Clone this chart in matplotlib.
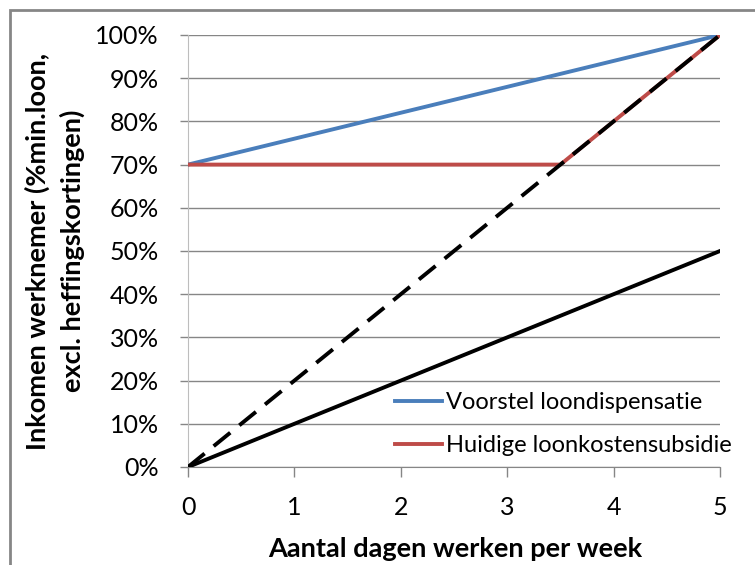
import matplotlib.pyplot as plt
from matplotlib.patches import Rectangle
from matplotlib.ticker import PercentFormatter

days = [0, 5]
voorstel = [70, 100]
huidige_days = [0, 3.5, 5]
huidige = [70, 70, 100]
fulltime_days = [0, 5]
fulltime = [0, 100]
halftime = [0, 50]

plt.rcParams["font.family"] = ["Lato", "DejaVu Sans"]

W, H = 755, 565
fig = plt.figure(figsize=(W / 100, H / 100), dpi=100)
ax = fig.add_axes([188 / W, 1 - 467 / H, 532 / W, 432 / H])

ax.plot(days, voorstel, color="#4a7ebb", lw=2.8, label="Voorstel loondispensatie", zorder=3)
ax.plot(huidige_days, huidige, color="#be4b48", lw=2.8, label="Huidige loonkostensubsidie", zorder=4)
ax.plot(fulltime_days, fulltime, color="black", lw=2.8, ls=(0, (5.5, 3)), zorder=5)
ax.plot(fulltime_days, halftime, color="black", lw=2.8, zorder=5)

ax.set_xlim(0, 5)
ax.set_ylim(0, 100)
ax.set_xticks(range(6))
ax.set_yticks(range(0, 101, 10))
ax.yaxis.set_major_formatter(PercentFormatter(decimals=0))
ax.grid(axis="y", color="#868686", lw=1.0)
ax.set_axisbelow(True)
for side in ("top", "right"):
    ax.spines[side].set_visible(False)
ax.spines["left"].set_color("#bdbdbd")
ax.spines["bottom"].set_color("#868686")
ax.tick_params(axis="y", length=6, width=1, color="#868686", labelsize=18, pad=15)
ax.tick_params(axis="x", length=7, width=1, color="#868686", labelsize=18, pad=14)

ax.set_xlabel("Aantal dagen werken per week", fontsize=19.5, fontweight="bold")
ax.xaxis.set_label_coords(0.502, -0.162)
ax.set_ylabel("Inkomen werknemer (%min.loon,\nexcl. heffingskortingen)", fontsize=19.5,
              fontweight="bold", linespacing=1.45)
ax.yaxis.set_label_coords(-0.193, 0.5)

ax.legend(loc="upper left", bbox_to_anchor=(395 / W, 1 - 392 / H), bbox_transform=fig.transFigure,
          frameon=False, fontsize=17, borderpad=0, borderaxespad=0,
          handlelength=2.0, handletextpad=0.15, labelspacing=0.95)

fig.patches.append(Rectangle((10 / W, -0.05), 1.1, 1 - 10 / H + 0.05, transform=fig.transFigure,
                             fill=False, edgecolor="#868686", lw=2))

fig.savefig("out.png", dpi=100)
